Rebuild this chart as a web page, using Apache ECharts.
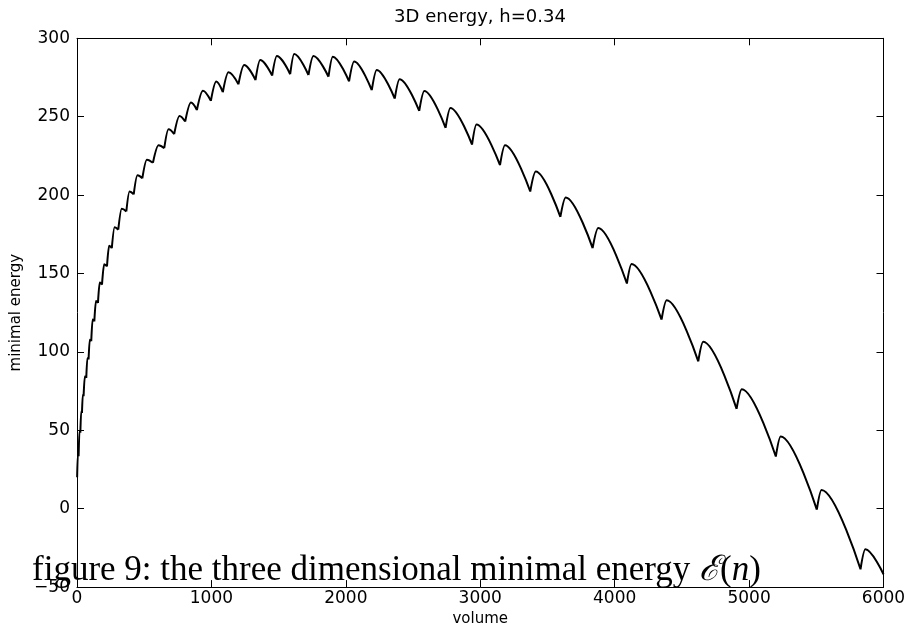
<!DOCTYPE html>
<html>
<head>
<meta charset="utf-8">
<script src="https://cdn.jsdelivr.net/npm/echarts@6/dist/echarts.min.js"></script>
<style>
html,body{margin:0;padding:0;background:#fff;}
#main{width:912px;height:632px;}
</style>
</head>
<body>
<div id="main"></div>
<script>
// Cusp points (local minima where the curve jumps up)
const cuspX = [1, 12, 25, 37, 49, 69, 86, 106, 129, 156, 186, 223, 259, 307, 367, 422, 486, 565, 649, 723, 805, 892, 996, 1085, 1201, 1328, 1452, 1586, 1722, 1871, 2024, 2193, 2364, 2546, 2742, 2939, 3147, 3372, 3596, 3836, 4091, 4349, 4622, 4907, 5199, 5504, 5829, 6000];
const cuspY = [20, 33.5, 48.4, 61.1, 71.7, 83.4, 95.1, 106.8, 119.5, 131.2, 142.9, 154.5, 166.2, 177.9, 189.6, 200.5, 210.7, 220.6, 229.9, 238.9, 246.9, 254.3, 260.1, 265.6, 270.7, 273.4, 276.2, 277.1, 276.6, 275.5, 272.5, 266.9, 261.5, 253.7, 242.9, 232.2, 219.1, 202.3, 186.1, 166.2, 143.6, 120.6, 94.0, 63.7, 33.3, -0.6, -38.6, -41.8];
// Peak (local maximum) of each scallop between consecutive cusps
const peakX = [6, 18, 31, 43, 58, 77, 95, 116, 141, 169, 202, 239, 280, 333, 391, 450, 520, 607, 681, 763, 848, 937, 1036, 1127, 1244, 1363, 1487, 1616, 1759, 1903, 2062, 2230, 2400, 2584, 2778, 2972, 3184, 3413, 3636, 3878, 4126, 4387, 4659, 4946, 5235, 5539, 5865];
const peakY = [34.3, 49.2, 62.0, 72.6, 84.3, 96.0, 107.8, 120.6, 132.4, 144.2, 155.9, 167.7, 179.5, 191.3, 202.3, 212.6, 222.6, 231.8, 242.0, 250.5, 259.0, 266.6, 272.4, 278.3, 283.0, 286.2, 288.7, 290.0, 288.7, 288.3, 285.2, 279.8, 273.9, 266.4, 255.6, 245.0, 231.8, 215.0, 198.5, 179.0, 156.0, 132.9, 106.4, 76.2, 46.1, 12.0, -25.9];
const xTicks = [0, 1000, 2000, 3000, 4000, 5000, 6000];
const yTicks = [-50, 0, 50, 100, 150, 200, 250, 300];

const titleText = '3D energy, h=0.34';
const xName = 'volume';
const yName = 'minimal energy';

// Build scallop segments: cusp -> peak -> next cusp, separated by breaks
const lineData = [];
for (let i = 0; i < peakX.length; i++) {
  lineData.push([cuspX[i], cuspY[i]]);
  lineData.push([peakX[i], peakY[i]]);
  lineData.push([cuspX[i + 1], cuspY[i + 1]]);
  lineData.push([cuspX[i + 1], null]);
}

const FONT = '"DejaVu Sans", "Liberation Sans", sans-serif';
const chart = echarts.init(document.getElementById('main'), null, {renderer: 'canvas'});
const axisCommon = {
  type: 'value',
  axisLine: {show: true, onZero: false, lineStyle: {color: '#000', width: 1}},
  axisTick: {show: true, inside: true, length: 7, lineStyle: {color: '#000', width: 1}},
  splitLine: {show: false}
};
chart.setOption({
  animation: false,
  backgroundColor: '#fff',
  grid: {left: 77, right: 28.5, top: 38.3, bottom: 44.2, containLabel: false},
  xAxis: [
    Object.assign({}, axisCommon, {
      position: 'bottom', min: xTicks[0], max: xTicks[xTicks.length - 1], interval: 1000,
      name: xName, nameLocation: 'middle', nameGap: 17,
      nameTextStyle: {color: '#000', fontSize: 15, fontFamily: FONT},
      axisLabel: {color: '#000', fontSize: 17, fontFamily: FONT, margin: 3,
        formatter: v => String(v)}
    }),
    Object.assign({}, axisCommon, {
      position: 'top', min: xTicks[0], max: xTicks[xTicks.length - 1], interval: 1000,
      axisLabel: {show: false}
    })
  ],
  yAxis: [
    Object.assign({}, axisCommon, {
      position: 'left', min: yTicks[0], max: yTicks[yTicks.length - 1], interval: 50,
      name: yName, nameLocation: 'middle', nameGap: 43, nameRotate: 90,
      nameTextStyle: {color: '#000', fontSize: 15, fontFamily: FONT},
      axisLabel: {color: '#000', fontSize: 17, fontFamily: FONT, margin: 7,
        formatter: v => String(v).replace('-', '\u2212')}
    }),
    Object.assign({}, axisCommon, {
      position: 'right', min: yTicks[0], max: yTicks[yTicks.length - 1], interval: 50,
      axisLabel: {show: false}
    })
  ],
  series: [{
    type: 'line',
    data: lineData,
    xAxisIndex: 0, yAxisIndex: 0,
    showSymbol: false,
    symbol: 'none',
    smooth: 0.35,
    smoothMonotone: 'x',
    connectNulls: false,
    lineStyle: {color: '#000', width: 2},
    z: 3
  }],
  graphic: [
    {type: 'text', x: 480, y: 17, z: 10,
     style: {text: titleText, align: 'center', verticalAlign: 'middle', font: '18px ' + FONT, fill: '#000'}},
    {type: 'text', x: 32, y: 571, z: 20,
     style: {
       text: 'figure 9: the three dimensional minimal energy {it|\u2130}({it|n})',
       verticalAlign: 'middle', align: 'left',
       font: '35px "Liberation Serif", "DejaVu Serif", serif', fill: '#000',
       rich: {it: {fontStyle: 'italic', fontSize: 35, fontFamily: '"Liberation Serif", "DejaVu Serif", serif', fill: '#000'}}
     }}
  ]
});
</script>
</body>
</html>
